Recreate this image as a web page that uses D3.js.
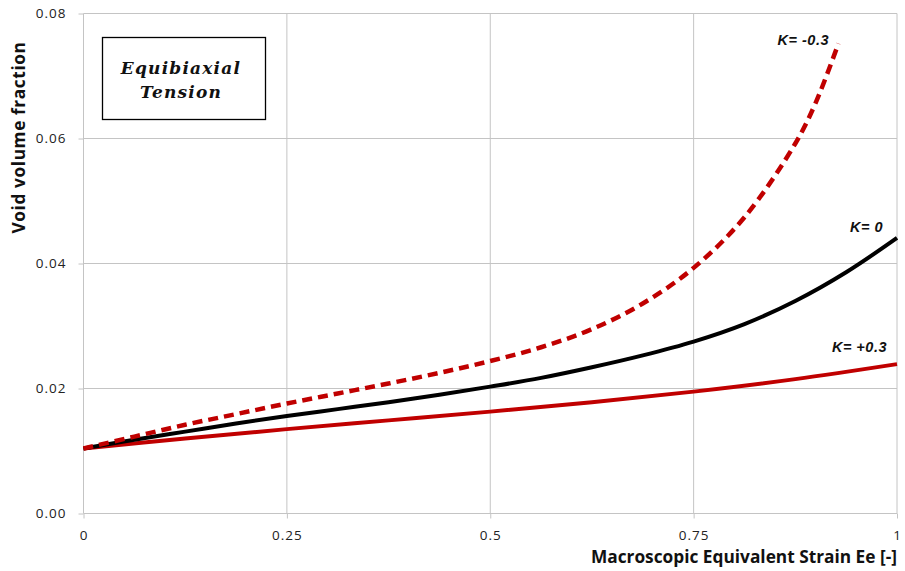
<!DOCTYPE html>
<html>
<head>
<meta charset="utf-8">
<script src="https://cdn.jsdelivr.net/npm/d3@7"></script>
<style>
  html, body { margin: 0; padding: 0; background: #fff; }
  svg { display: block; }
</style>
</head>
<body>
<svg id="chart" width="905" height="571"></svg>
<script>
// Strain values (x) at which the void volume fraction is sampled
const strainKneg = [0, 0.0625, 0.125, 0.1875, 0.25, 0.3125, 0.375, 0.4375, 0.5, 0.5625, 0.625, 0.6875, 0.75, 0.8125, 0.875, 0.9, 0.928];
const voidKneg   = [0.0104, 0.0123, 0.0142, 0.0159, 0.0176, 0.0192, 0.0208, 0.0225, 0.0244, 0.0266, 0.0295, 0.0336, 0.0393, 0.0474, 0.0592, 0.0657, 0.0752];

const strainK0 = [0, 0.0625, 0.125, 0.1875, 0.25, 0.3125, 0.375, 0.4375, 0.5, 0.5625, 0.625, 0.6875, 0.75, 0.8125, 0.875, 0.9375, 1];
const voidK0   = [0.0104, 0.0118, 0.0131, 0.0144, 0.0156, 0.0167, 0.0178, 0.0190, 0.0203, 0.0217, 0.0234, 0.0253, 0.0275, 0.0303, 0.0340, 0.0386, 0.0441];

const strainKpos = [0, 0.125, 0.25, 0.375, 0.5, 0.625, 0.75, 0.875, 1];
const voidKpos   = [0.0104, 0.0120, 0.0135, 0.0149, 0.0163, 0.0178, 0.0195, 0.0215, 0.0239];

const xTicks = [0, 0.25, 0.5, 0.75, 1];
const xTickLabels = ["0", "0.25", "0.5", "0.75", "1"];
const yTicks = [0, 0.02, 0.04, 0.06, 0.08];
const yTickLabels = ["0.00", "0.02", "0.04", "0.06", "0.08"];

const curveLabels = ["K= -0.3", "K= 0", "K= +0.3"];
const xTitle = "Macroscopic Equivalent Strain Ee [-]";
const yTitle = "Void volume fraction";
const boxLines = ["Equibiaxial", "Tension"];

const svg = d3.select("#chart");
const plotLeft = 83.5, plotRight = 897, plotTop = 13.5, plotBottom = 513.5;

const x = d3.scaleLinear().domain([0, 1]).range([plotLeft, plotRight]);
const y = d3.scaleLinear().domain([0, 0.08]).range([plotBottom, plotTop]);

const gridColor = "#c4c4c4";

// gridlines
svg.append("g").selectAll("line").data(xTicks.slice(1)).join("line")
  .attr("x1", d => x(d)).attr("x2", d => x(d))
  .attr("y1", plotTop).attr("y2", plotBottom)
  .attr("stroke", gridColor).attr("stroke-width", 1);
svg.append("g").selectAll("line").data(yTicks.slice(1)).join("line")
  .attr("x1", plotLeft).attr("x2", plotRight)
  .attr("y1", d => y(d)).attr("y2", d => y(d))
  .attr("stroke", gridColor).attr("stroke-width", 1);

// axes
const xAxis = d3.axisBottom(x).tickValues(xTicks).tickFormat((d, i) => xTickLabels[i]).tickSize(5).tickPadding(11.5);
const yAxis = d3.axisLeft(y).tickValues(yTicks).tickFormat((d, i) => yTickLabels[i]).tickSize(5).tickPadding(12);

const gx = svg.append("g").attr("transform", `translate(0,${plotBottom})`).call(xAxis);
const gy = svg.append("g").attr("transform", `translate(${plotLeft},0)`).call(yAxis);
[gx, gy].forEach(g => {
  g.select(".domain").attr("stroke", gridColor).attr("stroke-width", 1);
  g.selectAll(".tick line").attr("stroke", gridColor);
  g.selectAll(".tick text")
    .attr("fill", "#222")
    .style("font-family", "'Open Sans', sans-serif")
    .style("font-size", "13.5px")
    .style("letter-spacing", "1px");
});
gx.select(".domain").attr("d", `M${plotLeft},0H${plotRight}`);
gy.select(".domain").attr("d", `M0,${plotBottom}V${plotTop}`);

// axis titles
svg.append("text")
  .attr("x", plotRight).attr("y", 563)
  .attr("text-anchor", "end")
  .style("font-family", "'Open Sans', sans-serif")
  .style("font-weight", "bold")
  .style("font-size", "17.3px")
  .attr("fill", "#111")
  .text(xTitle);

svg.append("text")
  .attr("transform", "translate(25,137.5) rotate(-90)")
  .attr("text-anchor", "middle")
  .style("font-family", "'Open Sans', sans-serif")
  .style("font-weight", "bold")
  .style("font-size", "17.3px")
  .style("letter-spacing", "0.6px")
  .attr("fill", "#111")
  .text(yTitle);

// curves
const line = d3.line().curve(d3.curveCatmullRom.alpha(0.5)).x(d => x(d[0])).y(d => y(d[1]));
const red = "#c00000";

svg.append("path")
  .datum(d3.zip(strainKpos, voidKpos))
  .attr("d", line).attr("fill", "none")
  .attr("stroke", red).attr("stroke-width", 4);

svg.append("path")
  .datum(d3.zip(strainK0, voidK0))
  .attr("d", line).attr("fill", "none")
  .attr("stroke", "#000").attr("stroke-width", 4);

svg.append("path")
  .datum(d3.zip(strainKneg, voidKneg))
  .attr("d", line).attr("fill", "none")
  .attr("stroke", red).attr("stroke-width", 4.5)
  .attr("stroke-dasharray", "10,6");

// curve labels
const labelPos = [[829, 45], [883, 232], [887, 352]];
svg.append("g").selectAll("text").data(curveLabels).join("text")
  .attr("x", (d, i) => labelPos[i][0]).attr("y", (d, i) => labelPos[i][1])
  .attr("text-anchor", "end")
  .style("font-family", "'Liberation Sans', Arial, sans-serif")
  .style("font-weight", "bold")
  .style("font-style", "italic")
  .style("font-size", "14.5px")
  .style("letter-spacing", "0.5px")
  .attr("fill", "#111")
  .text(d => d);

// loading-case box
svg.append("rect")
  .attr("x", 102.5).attr("y", 37.5).attr("width", 163).attr("height", 82)
  .attr("fill", "#fff").attr("stroke", "#000").attr("stroke-width", 1.3);
svg.append("g").selectAll("text").data(boxLines).join("text")
  .attr("x", 181).attr("y", (d, i) => 74 + i * 24)
  .attr("text-anchor", "middle")
  .style("font-family", "'DejaVu Serif', serif")
  .style("font-weight", "bold")
  .style("font-style", "italic")
  .style("font-size", "17px")
  .style("letter-spacing", "1.2px")
  .attr("fill", "#111")
  .text(d => d);
</script>
</body>
</html>
